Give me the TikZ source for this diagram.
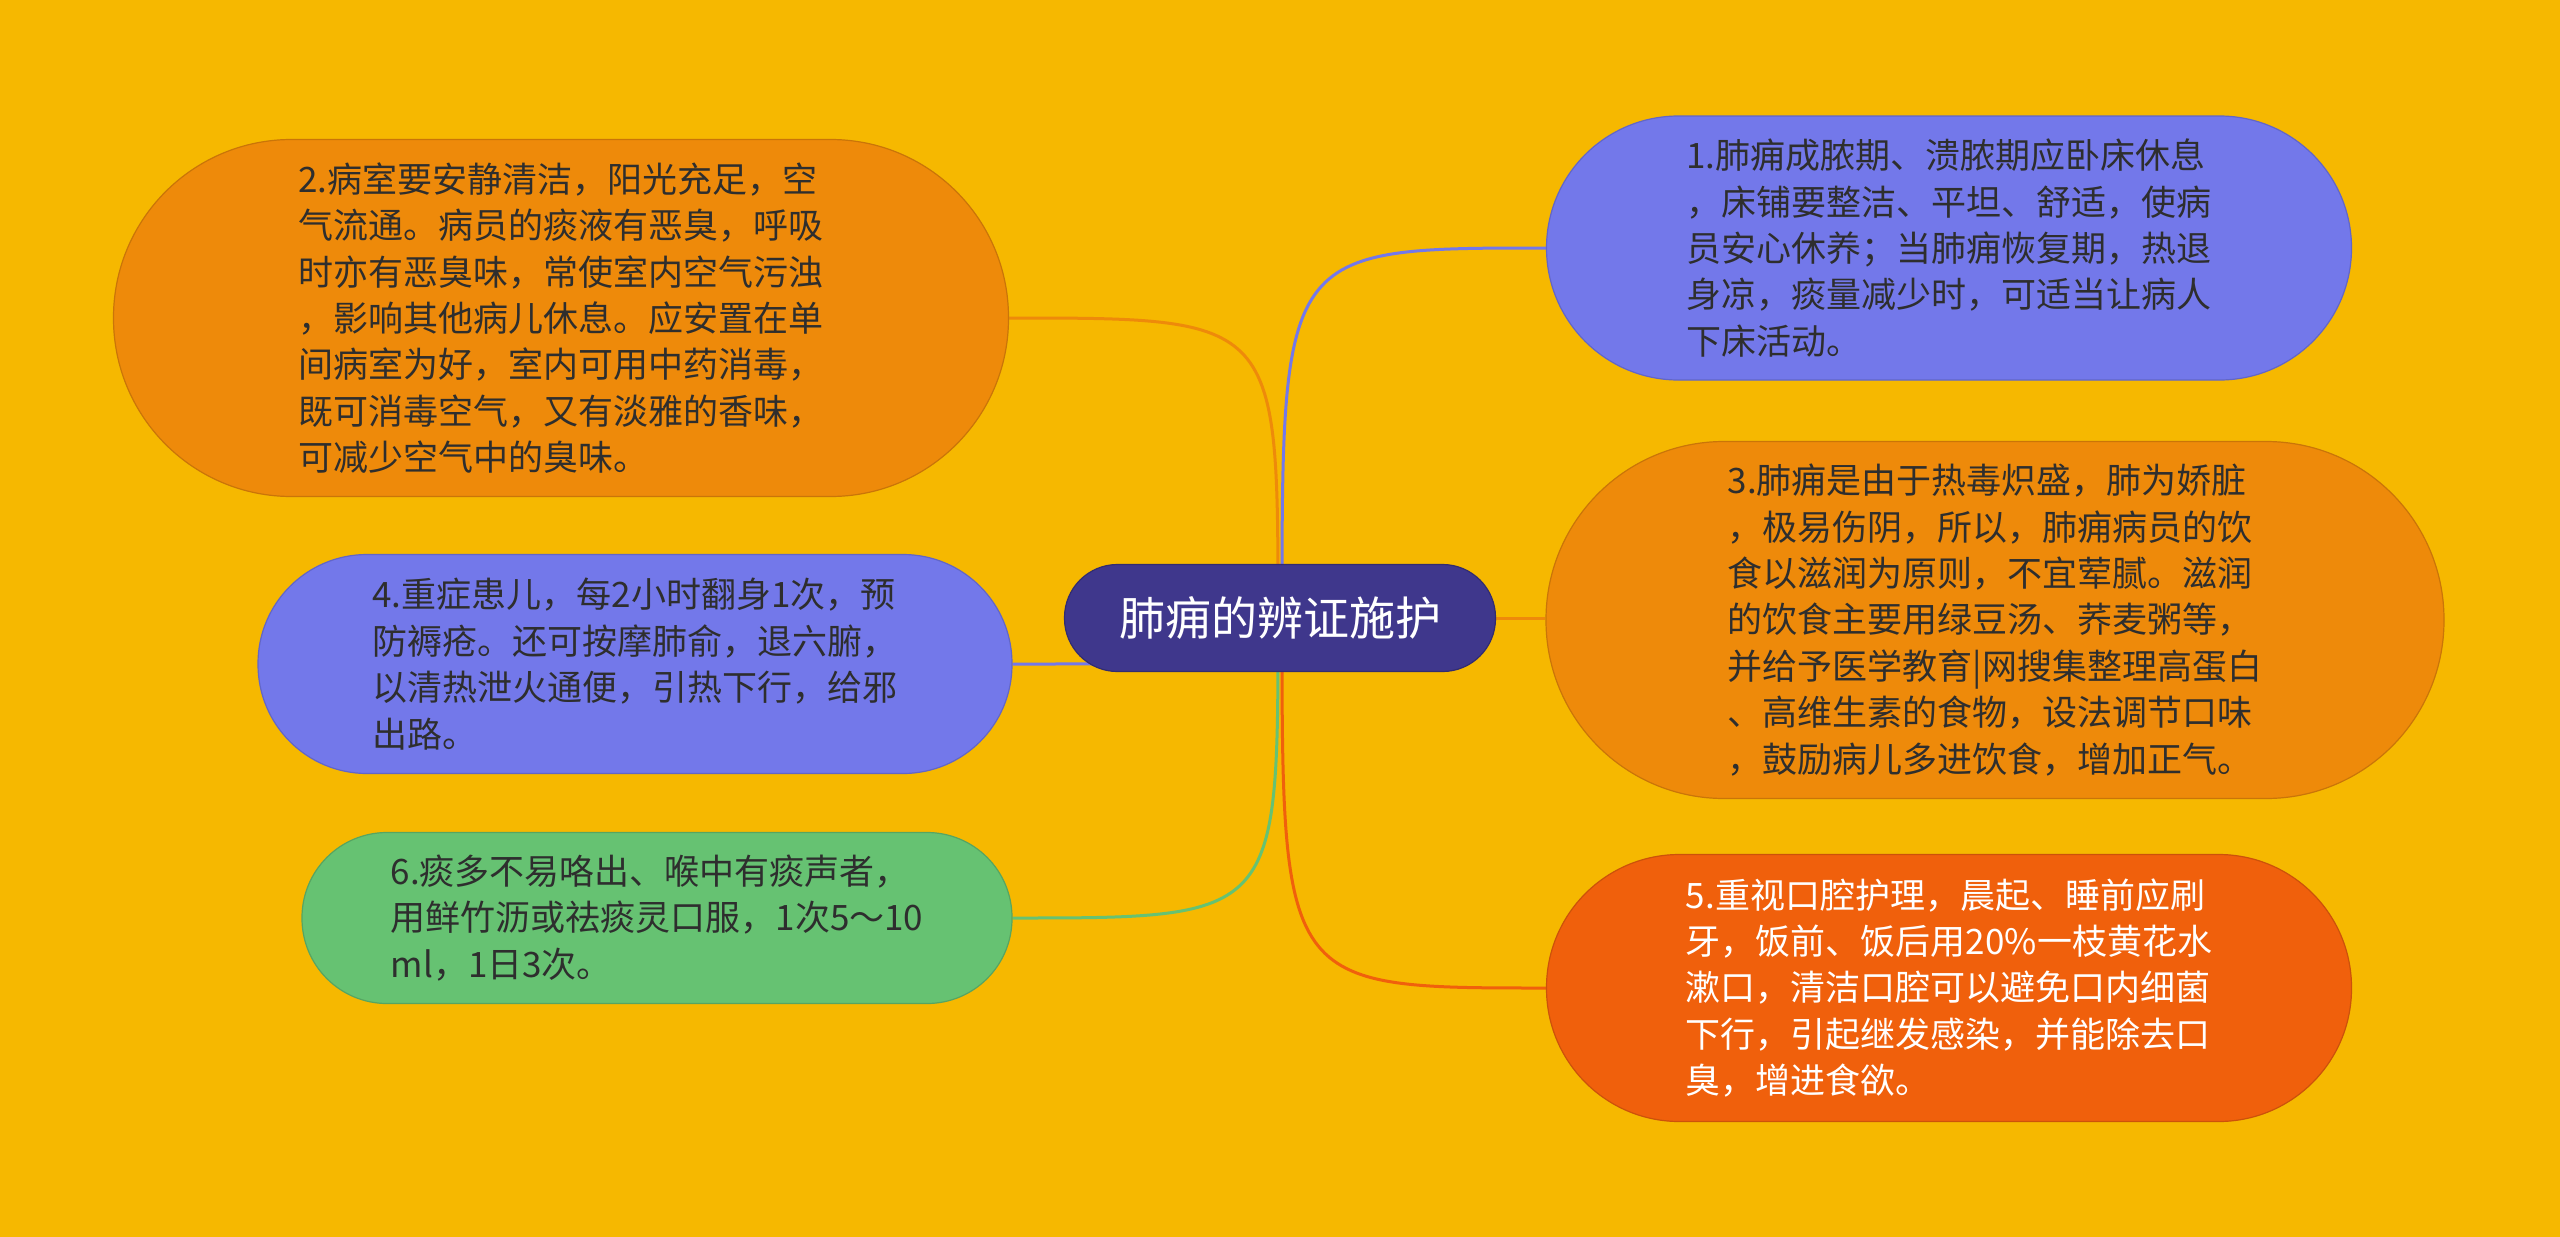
\documentclass[tikz,border=0pt]{standalone}
\usepackage{fontspec}
\setmainfont{Noto Sans CJK SC}
\pgfdeclarelayer{bg}
\pgfdeclarelayer{edges}
\pgfsetlayers{bg,edges,main}
\definecolor{bgc}{HTML}{F6B800}
\definecolor{orn}{HTML}{EE8A0A}
\definecolor{blu}{HTML}{7378EA}
\definecolor{grn}{HTML}{66C272}
\definecolor{red}{HTML}{F0600C}
\definecolor{ctr}{HTML}{3F378C}
\definecolor{txt}{HTML}{2E2E2E}
\tikzset{
  leaf/.style={rectangle, inner sep=0pt, align=left, draw=#1!85!black, line width=1.2pt, fill=#1,
    font=\fontsize{35}{46.4}\selectfont, text=txt},
  link/.style={line width=3pt, draw=#1},
  hubnode/.style={rectangle, inner sep=0pt, fill=ctr, draw=ctr!80!black, line width=1.2pt,
    text=white, font=\fontsize{46}{50}\selectfont}
}
\begin{document}
\begin{tikzpicture}[x=1pt,y=-1pt]
\begin{pgfonlayer}{bg}
\fill[bgc] (0,0) rectangle (2560,1237);
\end{pgfonlayer}
\useasboundingbox (0,0) rectangle (2560,1237);

\node[hubnode, minimum width=431pt, minimum height=107pt, rounded corners=53pt] (c) at (1280,618) {肺痈的辨证施护};

\node[leaf=blu, minimum width=805pt, minimum height=264pt, rounded corners=132pt] (n1) at (1949,248)
{1.肺痈成脓期、溃脓期应卧床休息\\，床铺要整洁、平坦、舒适，使病\\员安心休养；当肺痈恢复期，热退\\身凉，痰量减少时，可适当让病人\\下床活动。};

\node[leaf=orn, minimum width=895pt, minimum height=357pt, rounded corners=178pt] (n2) at (561,318)
{2.病室要安静清洁，阳光充足，空\\气流通。病员的痰液有恶臭，呼吸\\时亦有恶臭味，常使室内空气污浊\\，影响其他病儿休息。应安置在单\\间病室为好，室内可用中药消毒，\\既可消毒空气，又有淡雅的香味，\\可减少空气中的臭味。};

\node[leaf=orn, minimum width=898pt, minimum height=357pt, rounded corners=178pt] (n3) at (1995,620)
{3.肺痈是由于热毒炽盛，肺为娇脏\\，极易伤阴，所以，肺痈病员的饮\\食以滋润为原则，不宜荤腻。滋润\\的饮食主要用绿豆汤、荞麦粥等，\\并给予医学教育|网搜集整理高蛋白\\、高维生素的食物，设法调节口味\\，鼓励病儿多进饮食，增加正气。};

\node[leaf=blu, minimum width=754pt, minimum height=219pt, rounded corners=109pt] (n4) at (635,664)
{4.重症患儿，每2小时翻身1次，预\\防褥疮。还可按摩肺俞，退六腑，\\以清热泄火通便，引热下行，给邪\\出路。};

\node[leaf=red, minimum width=805pt, minimum height=267pt, rounded corners=133pt, text=white] (n5) at (1949,988)
{5.重视口腔护理，晨起、睡前应刷\\牙，饭前、饭后用20\%一枝黄花水\\漱口，清洁口腔可以避免口内细菌\\下行，引起继发感染，并能除去口\\臭，增进食欲。};

\node[leaf=grn, minimum width=710pt, minimum height=171pt, rounded corners=85pt] (n6) at (657,918)
{6.痰多不易咯出、喉中有痰声者，\\用鲜竹沥或祛痰灵口服，1次5～10\\ml，1日3次。};

\begin{pgfonlayer}{edges}
\draw[link=blu] ([xshift=2pt]c.center) .. controls ([xshift=2pt]c.center |- n1.west) .. (n1.west);
\draw[link=orn] ([xshift=-2pt]c.center) .. controls ([xshift=-2pt]c.center |- n2.east) .. (n2.east);
\draw[link=blu] (c.center) .. controls (c.center |- n4.east) .. (n4.east);
\draw[link=orn] (c.center) -- (c.center -| n3.west);
\draw[link=grn] ([xshift=-2pt]c.center) .. controls ([xshift=-2pt]c.center |- n6.east) .. (n6.east);
\draw[link=red] ([xshift=2pt]c.center) .. controls ([xshift=2pt]c.center |- n5.west) .. (n5.west);
\end{pgfonlayer}
\end{tikzpicture}
\end{document}
